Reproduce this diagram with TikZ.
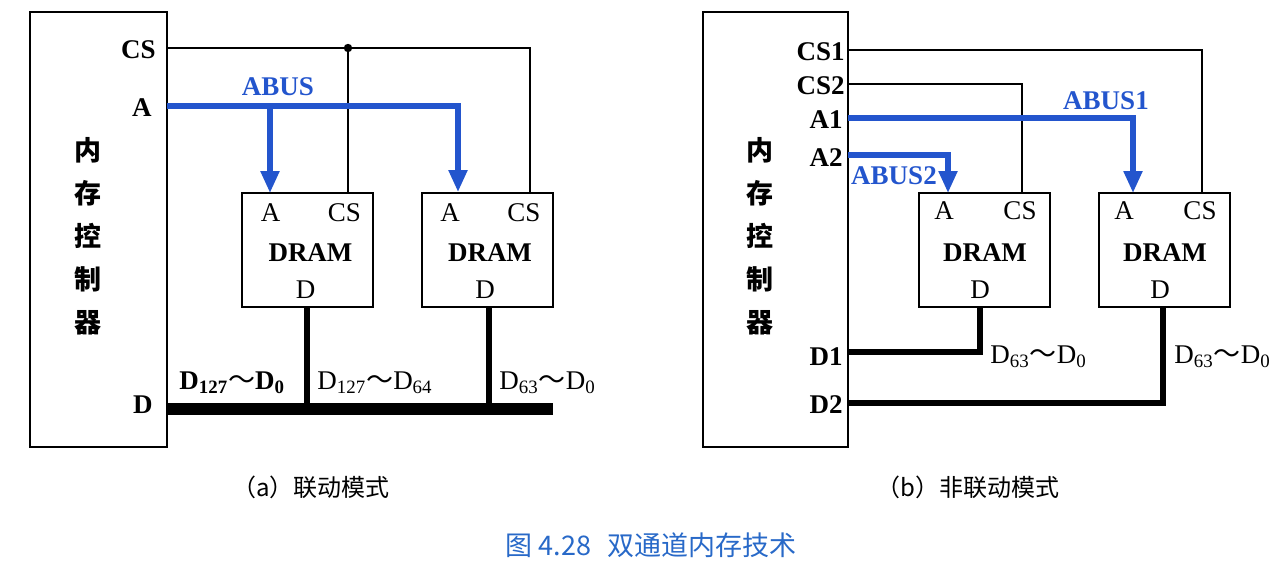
\documentclass[tikz,border=0pt]{standalone}
\usepackage{fontspec}
\setmainfont{Liberation Serif}
\newfontfamily\cjk{Noto Sans CJK SC}
\usetikzlibrary{arrows.meta}
\definecolor{busblue}{RGB}{35,85,205}
\definecolor{titleblue}{RGB}{40,105,200}
\newcommand\wave{{\cjk\mdseries ～}}
\tikzset{
  lbl/.style={font=\fontsize{13.5}{16}\selectfont\bfseries, inner sep=0pt},
  pinlbl/.style={font=\fontsize{13.5}{16}\selectfont, inner sep=0pt},
  buslbl/.style={font=\fontsize{13.5}{16}\selectfont\bfseries, text=busblue, inner sep=0pt},
  ctrlbox/.style={draw, line width=1pt, minimum height=217.5pt, inner sep=0pt},
  dram/.style={draw, line width=1pt, minimum width=65.5pt, minimum height=57pt, inner sep=0pt},
  sig/.style={line width=0.8pt},
  abus/.style={line width=2.6pt, busblue, -{Triangle[width=9pt,length=11pt]}},
  dbus/.style={line width=3pt},
  cjkv/.style={font=\cjk\bfseries\fontsize{13.5}{21.5}\selectfont, align=center, inner sep=0pt},
  captext/.style={font=\cjk\fontsize{12}{14}\selectfont, inner sep=0pt},
}
\begin{document}
\begin{tikzpicture}[x=0.5pt,y=-0.5pt]
\useasboundingbox (0,0) rectangle (1282,568);

% ================= (a) =================
\node[ctrlbox, minimum width=68.5pt] (ctrlA) at (98.5,229.5) {};
\node[cjkv] (ctrlAtxt) at (88,236) {内\\存\\控\\制\\器};
\node[dram] (a1) at (307.5,250) {};
\node[dram] (a2) at (487,249.5) {};
\foreach \d/\cx in {a1/307.5, a2/487}{
  \node[pinlbl] (\d A) at (\cx-37,213) {A};
  \node[pinlbl] (\d CS) at (\cx+37,213) {CS};
  \node[lbl] (\d name) at (\cx+3,253) {DRAM};
  \node[pinlbl] (\d D) at (\cx-2,290) {D};
}
\node[lbl, anchor=east] (aCSl) at (156,50) {CS};
\node[lbl, anchor=east] (aAl) at (152,108) {A};
\node[lbl, anchor=east] (aDl) at (153,405) {D};
\node[buslbl] (abusl) at (278,87) {ABUS};

\coordinate (aCS) at (167,48);
\coordinate (aJ) at (348,48);
\coordinate (a1cs) at (348,193);
\coordinate (a2cs) at (530,192);
\draw[sig] (aCS) -| (a2cs);
\draw[sig] (aJ) -- (a1cs);
\fill (aJ) circle (2.1pt);

\coordinate (aA) at (167,106);
\coordinate (aB) at (270,106);
\coordinate (a1a) at (270,193);
\coordinate (a2a) at (458,192);
\draw[abus] (aA) -| (a2a);
\draw[abus] (aB) -- (a1a);

\coordinate (aD) at (167,409);
\coordinate (aDend) at (553,409);
\coordinate (a1d) at (307,307);
\coordinate (a1dj) at (307,409);
\coordinate (a2d) at (489,307);
\coordinate (a2dj) at (489,409);
\draw[line width=6pt] (aD) -- (aDend);
\draw[dbus] (a1d) -- (a1dj);
\draw[dbus] (a2d) -- (a2dj);

\node[lbl, anchor=west] (dall) at (179,383) {D\textsubscript{127}\wave D\textsubscript{0}};
\node[pinlbl, anchor=west] (dhi) at (317,383) {D\textsubscript{127}\wave D\textsubscript{64}};
\node[pinlbl, anchor=west] (dlo) at (499,383) {D\textsubscript{63}\wave D\textsubscript{0}};

\node[captext] (capa) at (311,487) {（a）联动模式};

% ================= (b) =================
\node[ctrlbox, minimum width=72.5pt] (ctrlB) at (775.5,229.5) {};
\node[cjkv] (ctrlBtxt) at (760,236) {内\\存\\控\\制\\器};
\node[dram] (b1) at (984,250) {};
\node[dram] (b2) at (1164,250) {};
\foreach \d/\cx in {b1/984, b2/1164}{
  \node[pinlbl] (\d A) at (\cx-40,211) {A};
  \node[pinlbl] (\d CS) at (\cx+36,211) {CS};
  \node[lbl] (\d name) at (\cx+1,253) {DRAM};
  \node[pinlbl] (\d D) at (\cx-4,290) {D};
}
\node[lbl, anchor=east] (bCS1l) at (845,52) {CS1};
\node[lbl, anchor=east] (bCS2l) at (845,86) {CS2};
\node[lbl, anchor=east] (bA1l) at (843,120) {A1};
\node[lbl, anchor=east] (bA2l) at (843,158) {A2};
\node[lbl, anchor=east] (bD1l) at (843,357) {D1};
\node[lbl, anchor=east] (bD2l) at (843,405) {D2};
\node[buslbl] (abus1l) at (1106,101) {ABUS1};
\node[buslbl] (abus2l) at (894,176) {ABUS2};

\coordinate (bCS1) at (848,50);
\coordinate (b2cs) at (1202,193);
\coordinate (bCS2) at (848,84);
\coordinate (b1cs) at (1022,193);
\draw[sig] (bCS1) -| (b2cs);
\draw[sig] (bCS2) -| (b1cs);

\coordinate (bA1) at (848,118);
\coordinate (b2a) at (1133,193);
\coordinate (bA2) at (848,155);
\coordinate (b1a) at (948,193);
\draw[abus] (bA1) -| (b2a);
\draw[abus] (bA2) -| (b1a);

\coordinate (b1d) at (980,307);
\coordinate (bD1) at (848,352);
\coordinate (b2d) at (1163,307);
\coordinate (bD2) at (848,403);
\draw[dbus] (b1d) |- (bD1);
\draw[dbus] (b2d) |- (bD2);

\node[pinlbl, anchor=west] (b1dl) at (990,357) {D\textsubscript{63}\wave D\textsubscript{0}};
\node[pinlbl, anchor=west] (b2dl) at (1174,357) {D\textsubscript{63}\wave D\textsubscript{0}};

\node[captext] (capb) at (968,487) {（b）非联动模式};

% ================= title =================
\node[font=\cjk\fontsize{13.5}{16}\selectfont, text=titleblue, inner sep=0pt] (title) at (651,545) {图 4.28\hspace{0.6em}双通道内存技术};
\end{tikzpicture}
\end{document}
